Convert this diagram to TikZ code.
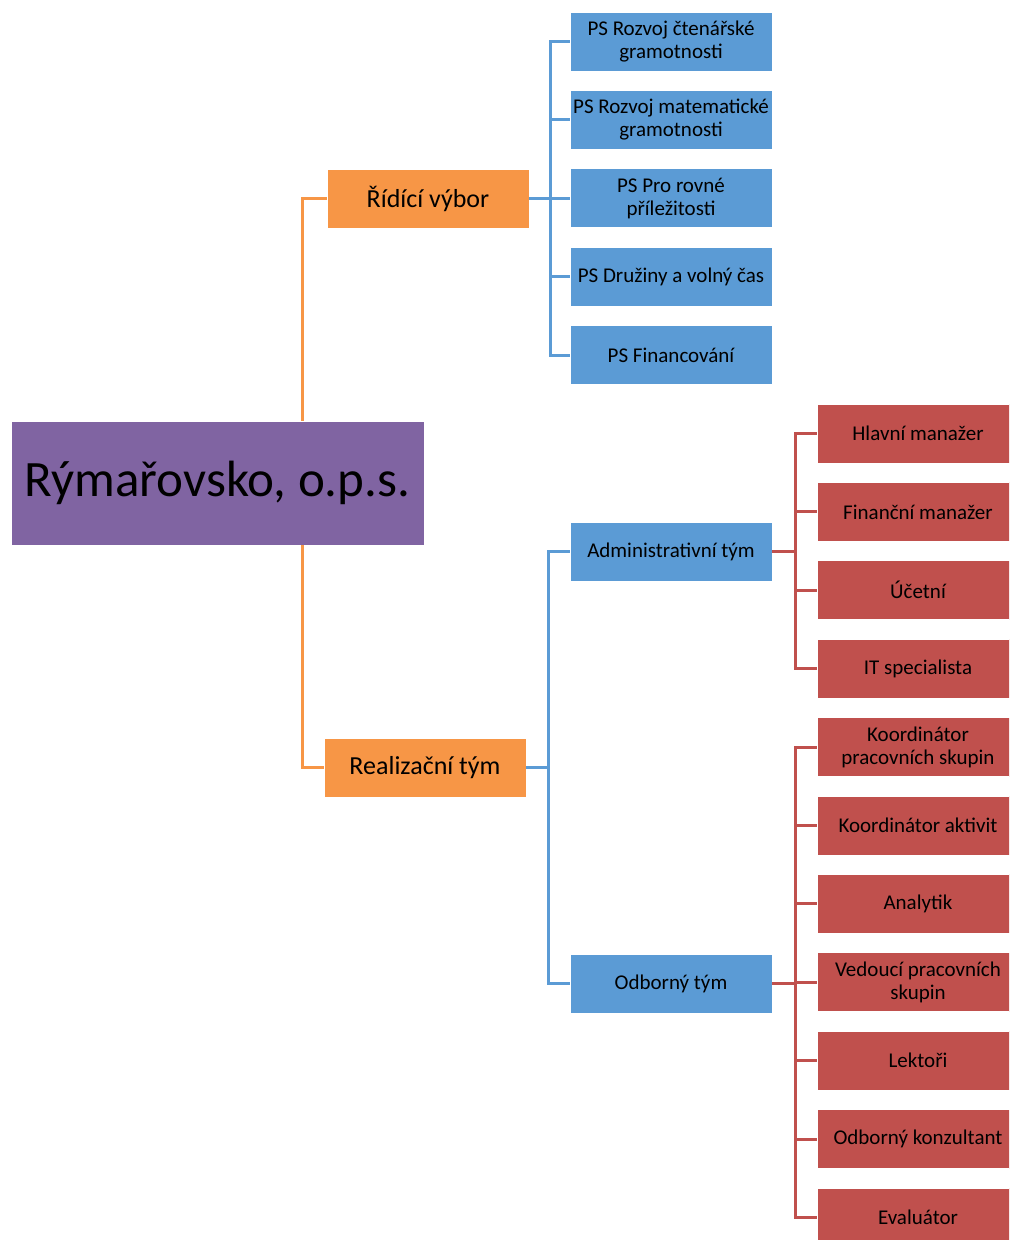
\documentclass[tikz,border=0pt]{standalone}
\usepackage{fontspec}
\setmainfont{Carlito}
\usetikzlibrary{positioning, calc}
\definecolor{rootColor}{HTML}{8064A2}
\definecolor{orangeColor}{HTML}{F79646}
\definecolor{blueColor}{HTML}{5B9BD5}
\definecolor{redColor}{HTML}{C0504D}
\tikzstyle{box}=[rectangle, draw=white, line width=0.4pt, align=center, inner sep=1pt, minimum width=101pt, minimum height=29.5pt]
\tikzstyle{rootbox}=[box, fill=rootColor, minimum width=206.5pt, minimum height=62pt, font=\fontsize{25.5}{30}\selectfont]
\tikzstyle{obox}=[box, fill=orangeColor, font=\fontsize{13}{15}\selectfont]
\tikzstyle{bbox}=[box, fill=blueColor, font=\fontsize{10.5}{11.6}\selectfont]
\tikzstyle{rbox}=[box, fill=redColor, font=\fontsize{10.5}{11.6}\selectfont]
\tikzstyle{oline}=[draw=orangeColor, line width=1.5pt]
\tikzstyle{bline}=[draw=blueColor, line width=1.5pt]
\tikzstyle{rline}=[draw=redColor, line width=1.5pt]

\begin{document}
\begin{tikzpicture}[x=0.5pt, y=-0.5pt, node distance=9.3pt]
      \clip (0,0) rectangle (1009,1240);
      \node (root) [rootbox] at (217.5,483) {Rýmařovsko, o.p.s.};
      \node (ridici) [obox] at (428,198.5) {Řídící výbor};
      \node (realiz) [obox] at (425,767.5) {Realizační tým};
      % pracovni skupiny
      \node (ps1) [bbox] at (671,41.5) {PS Rozvoj čtenářské\\gramotnosti};
      \node (ps2) [bbox, below=of ps1] {PS Rozvoj matematické\\gramotnosti};
      \node (ps3) [bbox, below=of ps2] {PS Pro rovné\\příležitosti};
      \node (ps4) [bbox, below=of ps3] {PS Družiny a volný čas};
      \node (ps5) [bbox, below=of ps4] {PS Financování};
      % tymy
      \node (admin) [bbox] at (671,551.5) {Administrativní tým};
      \node (odb) [bbox] at (671,983.5) {Odborný tým};
      \node (hlavni) [rbox] at (918,433.5) {Hlavní manažer};
      \node (financni) [rbox, below=of hlavni] {Finanční manažer};
      \node (ucetni) [rbox, below=of financni] {Účetní};
      \node (it) [rbox, below=of ucetni] {IT specialista};
      \node (koordps) [rbox, below=of it] {Koordinátor\\pracovních skupin};
      \node (koordakt) [rbox, below=of koordps] {Koordinátor aktivit};
      \node (analytik) [rbox, below=of koordakt] {Analytik};
      \node (vedouci) [rbox, below=of analytik] {Vedoucí pracovních\\skupin};
      \node (lektori) [rbox, below=of vedouci] {Lektoři};
      \node (konzultant) [rbox, below=of lektori] {Odborný konzultant};
      \node (evaluator) [rbox, below=of konzultant] {Evaluátor};
      \coordinate (ospine) at (302,0);
      \draw [oline] (ospine |- root.north) |- (ridici.west);
      \draw [oline] (ospine |- root.south) |- (realiz.west);
      \foreach \n in {ps1,ps2,ps3,ps4,ps5}
        \draw [bline] (ridici.east) -- ++(21,0) |- (\n.west);
      \foreach \n in {admin,odb}
        \draw [bline] (realiz.east) -- ++(22,0) |- (\n.west);
      \foreach \n in {hlavni,financni,ucetni,it}
        \draw [rline] (admin.east) -- ++(23,0) |- (\n.west);
      \foreach \n in {koordps,koordakt,analytik,vedouci,lektori,konzultant,evaluator}
        \draw [rline] (odb.east) -- ++(23,0) |- (\n.west);
    \end{tikzpicture}
\end{document}
